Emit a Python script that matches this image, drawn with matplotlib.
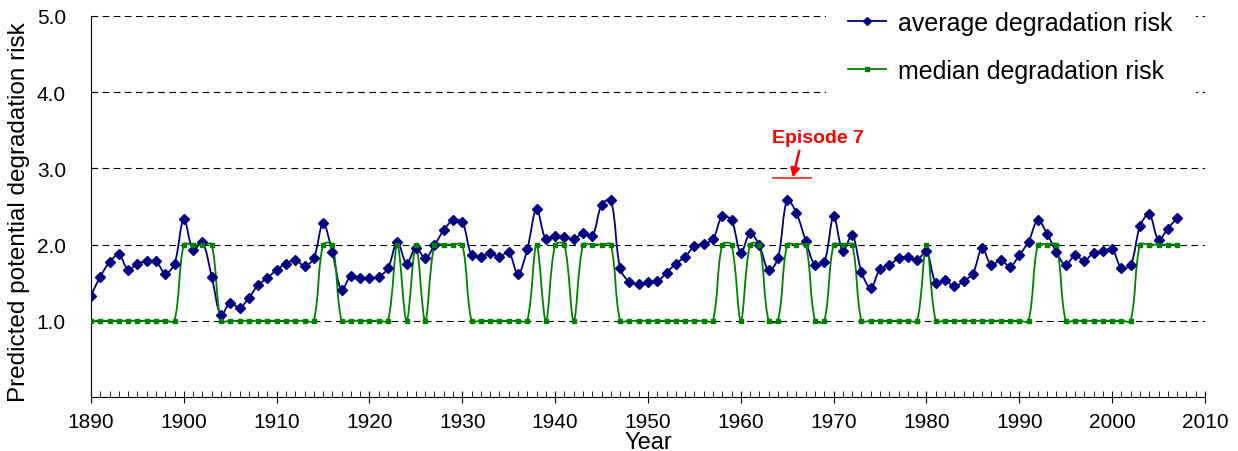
"""Average and median predicted degradation risk per year, 1890-2007."""

import numpy as np
from matplotlib import pyplot as plt
from matplotlib.path import Path
from matplotlib.patches import PathPatch
from matplotlib.lines import Line2D

plt.rcParams["font.family"] = ["Liberation Sans", "DejaVu Sans"]

first_year = 1890
last_year = 2007

average_risk = [
    1.33, 1.58, 1.77, 1.87, 1.67, 1.75, 1.78, 1.78, 1.62, 1.75,  # 1890s
    2.34, 1.93, 2.03, 1.58, 1.07, 1.24, 1.17, 1.30, 1.47, 1.56,  # 1900s
    1.67, 1.75, 1.80, 1.72, 1.82, 2.28, 1.90, 1.40, 1.59, 1.56,  # 1910s
    1.56, 1.58, 1.69, 2.04, 1.75, 1.96, 1.82, 1.99, 2.19, 2.32,  # 1920s
    2.30, 1.86, 1.84, 1.89, 1.84, 1.90, 1.61, 1.94, 2.47, 2.07,  # 1930s
    2.11, 2.10, 2.07, 2.15, 2.11, 2.52, 2.59, 1.69, 1.51, 1.48,  # 1940s
    1.51, 1.52, 1.63, 1.75, 1.84, 1.98, 2.01, 2.07, 2.37, 2.32,  # 1950s
    1.89, 2.15, 1.99, 1.66, 1.82, 2.59, 2.41, 2.05, 1.73, 1.77,  # 1960s
    2.37, 1.91, 2.13, 1.64, 1.43, 1.68, 1.73, 1.82, 1.84, 1.80,  # 1970s
    1.91, 1.50, 1.53, 1.45, 1.52, 1.62, 1.95, 1.73, 1.80, 1.71,  # 1980s
    1.86, 2.04, 2.32, 2.14, 1.90, 1.73, 1.86, 1.79, 1.89, 1.91,  # 1990s
    1.94, 1.69, 1.73, 2.24, 2.40, 2.06, 2.21, 2.35,              # 2000s
]

median_risk = [
    1, 1, 1, 1, 1, 1, 1, 1, 1, 1,  # 1890s
    2, 2, 2, 2, 1, 1, 1, 1, 1, 1,  # 1900s
    1, 1, 1, 1, 1, 2, 2, 1, 1, 1,  # 1910s
    1, 1, 1, 2, 1, 2, 1, 2, 2, 2,  # 1920s
    2, 1, 1, 1, 1, 1, 1, 1, 2, 1,  # 1930s
    2, 2, 1, 2, 2, 2, 2, 1, 1, 1,  # 1940s
    1, 1, 1, 1, 1, 1, 1, 1, 2, 2,  # 1950s
    1, 2, 2, 1, 1, 2, 2, 2, 1, 1,  # 1960s
    2, 2, 2, 1, 1, 1, 1, 1, 1, 1,  # 1970s
    2, 1, 1, 1, 1, 1, 1, 1, 1, 1,  # 1980s
    1, 1, 2, 2, 2, 1, 1, 1, 1, 1,  # 1990s
    1, 1, 1, 2, 2, 2, 2, 2,        # 2000s
]

episode_label = "Episode 7"
episode_span = (1963.5, 1967.6)
episode_level = 2.88

series_labels = ["average degradation risk", "median degradation risk"]


def smooth_path(x, y, sx, sy):
    """Excel-like smoothed line as cubic Bezier segments through the points."""
    pts = np.column_stack([x, y]).astype(float)
    scaled = pts * [sx, sy]
    n = len(pts)
    verts = [pts[0]]
    codes = [Path.MOVETO]
    for i in range(n - 1):
        i0, i3 = max(i - 1, 0), min(i + 2, n - 1)
        p0, p1, p2, p3 = pts[i0], pts[i], pts[i + 1], pts[i3]
        d01 = np.hypot(*(scaled[i] - scaled[i0]))
        d12 = np.hypot(*(scaled[i + 1] - scaled[i]))
        d23 = np.hypot(*(scaled[i3] - scaled[i + 1]))
        c1 = p1 + (p2 - p0) / 3 * d12 / (d01 + d12)
        c2 = p2 - (p3 - p1) / 3 * d12 / (d12 + d23)
        verts += [c1, c2, p2]
        codes += [Path.CURVE4] * 3
    return Path(verts, codes)


def main():
    years = np.arange(first_year, last_year + 1)
    fig = plt.figure(figsize=(12.38, 4.52), dpi=100)
    ax = fig.add_axes([0.0735, 0.1195, 0.8998, 0.8429])

    ax.set_xlim(1890, 2010)
    ax.set_ylim(0, 5)

    # pixels per data unit, used for the smoothing weights
    sx, sy = 9.28, 76.3
    for values, color, lw, marker, ms in [
        (average_risk, "#000080", 1.3, "D", 5.5),
        (median_risk, "#008000", 1.3, "s", 3.2),
    ]:
        ax.add_patch(PathPatch(smooth_path(years, values, sx, sy),
                               fill=False, edgecolor=color, lw=lw, zorder=3))
        ax.plot(years, values, ls="none", marker=marker, ms=ms,
                color=color, zorder=4)

    for level in [1, 2, 3, 4, 5]:
        ax.axhline(level, color="black", lw=0.8, ls=(0, (6, 4)), zorder=1)

    # Episode 7 marker
    ax.plot(episode_span, [episode_level, episode_level], color="#ff3030",
            lw=1.3, zorder=5)
    ax.annotate("", xy=(1965.6, episode_level), xytext=(1966.3, 3.23),
                arrowprops=dict(arrowstyle="-|>", color="red", lw=1.8,
                                mutation_scale=13, shrinkA=0, shrinkB=0),
                zorder=5)
    ax.text(1968.3, 3.41, episode_label, color="red", fontsize=14,
            fontweight="bold", ha="center", va="center")

    ax.spines["top"].set_visible(False)
    ax.spines["right"].set_visible(False)
    ax.set_xticks(np.arange(1890, 2011, 10))
    ax.set_xticks(np.arange(1890, 2011, 1), minor=True)
    ax.set_yticks([1, 2, 3, 4, 5])
    ax.set_yticklabels(["1.0", "2.0", "3.0", "4.0", "5.0"])
    ax.tick_params(axis="x", which="major", direction="inout", length=8,
                   labelsize=15, pad=7)
    ax.tick_params(axis="x", which="minor", direction="in", length=4)
    ax.tick_params(axis="y", direction="in", length=4, labelsize=15, pad=18)

    ax.set_xlabel("Year", fontsize=17)
    ax.xaxis.set_label_coords(0.5, -0.088)
    ax.set_ylabel("Predicted potential degradation risk", fontsize=17.5)
    ax.yaxis.set_label_coords(-0.0548, 0.488)

    handles = [
        Line2D([], [], color="#000080", lw=1.3, marker="D", ms=4),
        Line2D([], [], color="#008000", lw=1.3, marker="s", ms=3),
    ]
    leg = fig.legend(handles, series_labels, loc="center left",
                     bbox_to_anchor=(826 / 1238, 1 - 48 / 452),
                     fontsize=18, frameon=True, facecolor="white",
                     edgecolor="none", framealpha=1, fancybox=False,
                     borderpad=0.9, handlelength=1.5, handletextpad=0.5,
                     labelspacing=0.95, borderaxespad=0)
    leg.set_zorder(10)

    fig.savefig("out.png", dpi=100)
    plt.close(fig)


if __name__ == "__main__":
    main()
